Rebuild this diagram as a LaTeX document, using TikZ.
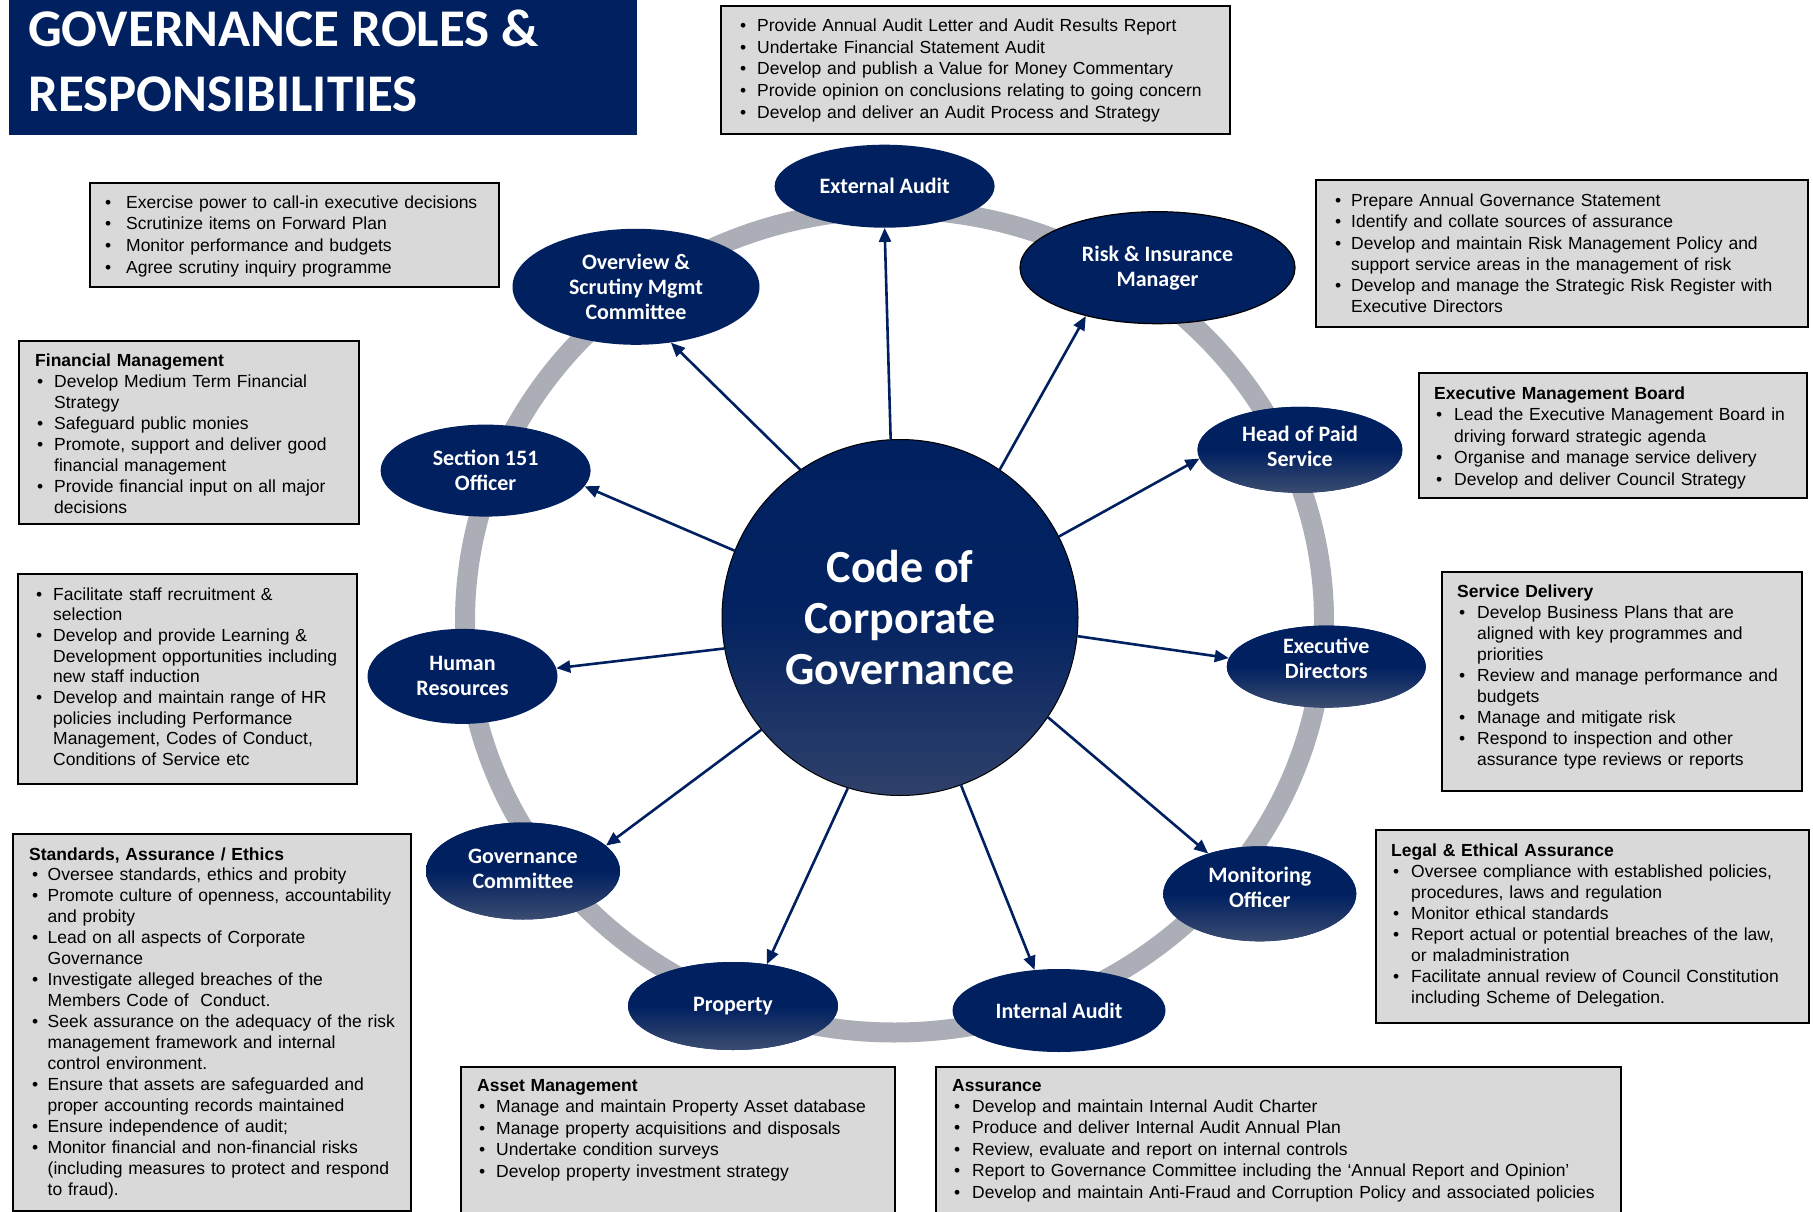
\documentclass[tikz,border=0pt]{standalone}
\usepackage{fontspec}
\setmainfont{Liberation Sans}
\newfontfamily\carl{Carlito}
\usetikzlibrary{shapes.geometric,arrows.meta}
\definecolor{navy}{HTML}{002060}
\definecolor{navyl}{HTML}{3B4C70}
\definecolor{cgb}{HTML}{2F416A}
\definecolor{boxgray}{HTML}{D9D9D9}
\definecolor{ringgray}{HTML}{ABAEB6}
\newlength\bind
\newlength\boff
\newcommand\bbody[1]{\hangindent=\bind\hangafter=1 \makebox[\bind][l]{\hspace*{\boff}\textbullet}#1}
\newcommand\bitem[1]{\par\noindent\bbody{#1}}
\newcommand\bfirst[1]{\bbody{#1}}
\newcommand\btitle[1]{\textbf{#1}}
\newcommand\bset[2]{\setlength\boff{#1pt}\setlength\bind{#2pt}}
\tikzset{
  gbox/.style={rectangle, draw=black, line width=2pt, fill=boxgray, inner sep=0pt, anchor=north west},
  btext/.style={anchor=base west, inner sep=0pt, text width=700pt, align=left, font=\fontsize{17.5}{#1}\selectfont},
  ellfont/.style={text=white, align=center, font=\carl\bfseries\fontsize{22}{25}\selectfont},
  ell/.style={ellipse, fill=navy, inner sep=0pt, ellfont},
  ellg/.style={ell, top color=navy, bottom color=navyl, middle color=navy},
  ellt/.style={inner sep=0pt, ellfont},
  arr/.style={draw=navy, line width=2.6pt, -{Triangle[length=14pt,width=12pt]}},
  ttl/.style={anchor=base west, inner sep=0pt, text=white, font=\carl\bfseries\fontsize{53}{60}\selectfont}
}
\begin{document}
\begin{tikzpicture}[x=1pt,y=-1pt]
\useasboundingbox (0,0) rectangle (1813,1212);
\fill[white] (0,0) rectangle (1813,1212);

% title
\node[rectangle, fill=navy, inner sep=0pt, minimum width=628, minimum height=140, anchor=north west] (tbox) at (9,-5) {};
\node[ttl] (t1) at (28,46.7) {GOVERNANCE ROLES \&};
\node[ttl] (t2) at (28,111.7) {RESPONSIBILITIES};

% ring
\draw[ringgray, line width=20pt] (894.5,621) ellipse [x radius=429.5, y radius=411.5];

% central
\node[circle, minimum size=356, inner sep=0pt, draw=black, line width=1pt, top color=navy, bottom color=cgb, middle color=navy!92!cgb, text=white, align=center, font=\carl\bfseries\fontsize{46}{51}\selectfont] (cg) at (900,617.5) {Code of\\Corporate\\Governance};

% ellipses
\node[ell, minimum width=220, minimum height=83] (ea) at (884.6,186.2) {External Audit};
\node[ell, draw=black, line width=1.2pt, minimum width=275, minimum height=112] (risk) at (1157.5,267.7) {Risk \& Insurance\\Manager};
\node[ell, minimum width=247, minimum height=116] (ov) at (636,286.8) {Overview \&\\Scrutiny Mgmt\\Committee};
\node[ellg, minimum width=205, minimum height=86] (hps) at (1300,449.8) {};
\node[ellt] (hpst) at (1300,446.5) {Head of Paid\\Service};
\node[ell, minimum width=210, minimum height=92] (s151) at (485.6,470.6) {Section 151\\Officer};
\node[ell, minimum width=190, minimum height=95] (hr) at (462.5,676.4) {Human\\Resources};
\node[ellg, minimum width=199, minimum height=82] (ed) at (1326.3,666.6) {};
\node[ellt] (edt) at (1326.3,658.6) {Executive\\Directors};
\node[ellg, minimum width=194, minimum height=97] (gc) at (523,871) {};
\node[ellt] (gct) at (523,869) {Governance\\Committee};
\node[ellg, minimum width=193, minimum height=95] (mo) at (1259.8,893.8) {};
\node[ellt] (mot) at (1259.8,887) {Monitoring\\Officer};
\node[ellg, minimum width=210, minimum height=88] (prop) at (733,1006) {Property};
\node[ell, minimum width=213, minimum height=83] (ia) at (1059,1010.5) {Internal Audit};

% arrows
\draw[arr] (cg.93) -- (ea.270);
\draw[arr] (cg.56) -- (risk.214);
\draw[arr] (cg.27) -- (hps.185);
\draw[arr] (cg.-6) -- (ed.175);
\draw[arr] (cg.-34) -- (mo.142);
\draw[arr] (cg.-70) -- (ia.121);
\draw[arr] (cg.-107) -- (prop.51);
\draw[arr] (cg.-141) -- (gc.17);
\draw[arr] (cg.-170) -- (hr.5);
\draw[arr] (cg.158) -- (s151.-9);
\draw[arr] (cg.124) -- (ov.-58);

% boxes
\node[gbox, minimum width=509, minimum height=128] (bext) at (720,5) {};
\node[btext=21.6] (text) at (740,31.7) {\bset{0}{17}%
\bfirst{Provide Annual Audit Letter and Audit Results Report}%
\bitem{Undertake Financial Statement Audit}%
\bitem{Develop and publish a Value for Money Commentary}%
\bitem{Provide opinion on conclusions relating to going concern}%
\bitem{Develop and deliver an Audit Process and Strategy}\par};

\node[gbox, minimum width=409, minimum height=104] (bov) at (89,182) {};
\node[btext=21.7] (tov) at (105,208) {\bset{0}{21}%
\bfirst{Exercise power to call-in executive decisions}%
\bitem{Scrutinize items on Forward Plan}%
\bitem{Monitor performance and budgets}%
\bitem{Agree scrutiny inquiry programme}\par};

\node[gbox, minimum width=492, minimum height=147] (brisk) at (1315,179) {};
\node[btext=21.3] (trisk) at (1335,206.5) {\bset{0}{16}%
\bfirst{Prepare Annual Governance Statement}%
\bitem{Identify and collate sources of assurance}%
\bitem{Develop and maintain Risk Management Policy and\newline support service areas in the management of risk}%
\bitem{Develop and manage the Strategic Risk Register with\newline Executive Directors}\par};

\node[gbox, minimum width=340, minimum height=183] (bfin) at (18,340) {};
\node[btext=21.0] (tfin) at (35,366) {\bset{2}{19}%
\btitle{Financial Management}%
\bitem{Develop Medium Term Financial\newline Strategy}%
\bitem{Safeguard public monies}%
\bitem{Promote, support and deliver good\newline financial management}%
\bitem{Provide financial input on all major\newline decisions}\par};

\node[gbox, minimum width=388, minimum height=125] (bemb) at (1418,372) {};
\node[btext=21.5] (temb) at (1434,399) {\bset{2}{20}%
\btitle{Executive Management Board}%
\bitem{Lead the Executive Management Board in\newline driving forward strategic agenda}%
\bitem{Organise and manage service delivery}%
\bitem{Develop and deliver Council Strategy}\par};

\node[gbox, minimum width=339, minimum height=210] (bhr) at (17,573) {};
\node[btext=20.7] (thr) at (36,600) {\bset{0}{17}%
\bfirst{Facilitate staff recruitment \&\newline selection}%
\bitem{Develop and provide Learning \&\newline Development opportunities including\newline new staff induction}%
\bitem{Develop and maintain range of HR\newline policies including Performance\newline Management, Codes of Conduct,\newline Conditions of Service etc}\par};

\node[gbox, minimum width=360, minimum height=219] (bsd) at (1441,571) {};
\node[btext=21.0] (tsd) at (1457,597) {\bset{2}{20}%
\btitle{Service Delivery}%
\bitem{Develop Business Plans that are\newline aligned with key programmes and\newline priorities}%
\bitem{Review and manage performance and\newline budgets}%
\bitem{Manage and mitigate risk}%
\bitem{Respond to inspection and other\newline assurance type reviews or reports}\par};

\node[gbox, minimum width=398, minimum height=377] (bstd) at (12,833) {};
\node[btext=20.95] (tstd) at (29,860) {\bset{3}{18.5}%
\btitle{Standards, Assurance / Ethics}%
\bitem{Oversee standards, ethics and probity}%
\bitem{Promote culture of openness, accountability\newline and probity}%
\bitem{Lead on all aspects of Corporate\newline Governance}%
\bitem{Investigate alleged breaches of the\newline Members Code of~ Conduct.}%
\bitem{Seek assurance on the adequacy of the risk\newline management framework and internal\newline control environment.}%
\bitem{Ensure that assets are safeguarded and\newline proper accounting records maintained}%
\bitem{Ensure independence of audit;}%
\bitem{Monitor financial and non-financial risks\newline (including measures to protect and respond\newline to fraud).}\par};

\node[gbox, minimum width=433, minimum height=193] (blegal) at (1375,829) {};
\node[btext=21.1] (tlegal) at (1391,856) {\bset{2}{20}%
\btitle{Legal \& Ethical Assurance}%
\bitem{Oversee compliance with established policies,\newline procedures, laws and regulation}%
\bitem{Monitor ethical standards}%
\bitem{Report actual or potential breaches of the law,\newline or maladministration}%
\bitem{Facilitate annual review of Council Constitution\newline including Scheme of Delegation.}\par};

\node[gbox, minimum width=434, minimum height=160] (basset) at (460,1066) {};
\node[btext=21.5] (tasset) at (477,1091) {\bset{2}{19}%
\btitle{Asset Management}%
\bitem{Manage and maintain Property Asset database}%
\bitem{Manage property acquisitions and disposals}%
\bitem{Undertake condition surveys}%
\bitem{Develop property investment strategy}\par};

\node[gbox, minimum width=685, minimum height=160] (bass) at (935,1066) {};
\node[btext=21.4] (tass) at (952,1091) {\bset{2}{20}%
\btitle{Assurance}%
\bitem{Develop and maintain Internal Audit Charter}%
\bitem{Produce and deliver Internal Audit Annual Plan}%
\bitem{Review, evaluate and report on internal controls}%
\bitem{Report to Governance Committee including the ‘Annual Report and Opinion’}%
\bitem{Develop and maintain Anti-Fraud and Corruption Policy and associated policies}\par};
\end{tikzpicture}
\end{document}
